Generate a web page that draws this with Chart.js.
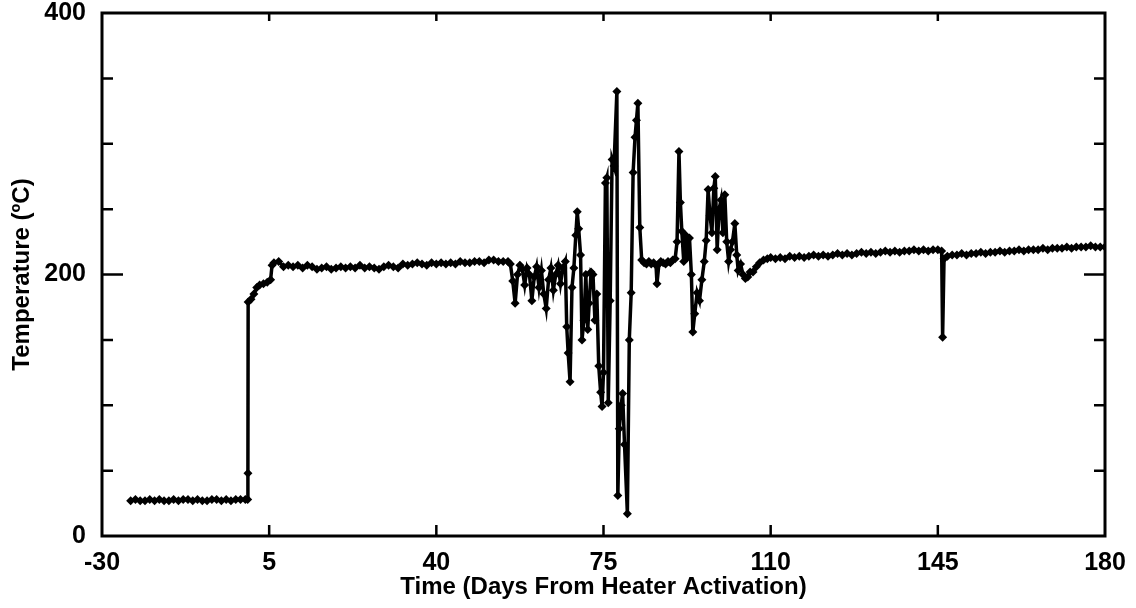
<!DOCTYPE html>
<html>
<head>
<meta charset="utf-8">
<script src="https://cdn.jsdelivr.net/npm/chart.js@4/dist/chart.umd.min.js"></script>
<style>
  html, body { margin: 0; padding: 0; background: #fff; }
  #wrap { width: 1136px; height: 608px; }
</style>
</head>
<body>
<div id="wrap"><canvas id="chart" width="1136" height="608"></canvas></div>
<script>
// Temperature history, split by phase

// before heater activation
const preDays  = [-24, -23, -22, -21, -20, -19, -18, -17, -16, -15, -14, -13, -12, -11, -10, -9, -8, -7, -6, -5, -4, -3, -2, -1, 0, 0.5, 0.55];
const preTemps = [27, 28, 27, 27, 28, 27, 28, 27, 27, 28, 27, 28, 28, 27, 28, 27, 27, 28, 28, 27, 28, 27, 28, 28, 28, 28, 48];

// warm-up
const warmDays  = [0.6, 1.2, 1.8, 2.4, 3.0, 3.8, 4.6, 5.3, 5.6];
const warmTemps = [179, 181, 185, 190, 192, 193, 194, 196, 207];

// steady plateau
const plateauDays  = [6, 7, 8, 9, 10, 11, 12, 13, 14, 15, 16, 17, 18, 19, 20, 21, 22, 23, 24, 25,
                      26, 27, 28, 29, 30, 31, 32, 33, 34, 35, 36, 37, 38, 39, 40, 41, 42, 43, 44, 45,
                      46, 47, 48, 49, 50, 51, 52, 53, 54, 55];
const plateauTemps = [209, 210, 206, 207, 206, 207, 205, 207, 206, 204, 205, 206, 204, 205, 206, 205, 206, 205, 207, 205,
                      206, 205, 204, 206, 207, 206, 205, 208, 207, 208, 209, 208, 207, 209, 208, 209, 208, 209, 208, 210,
                      209, 209, 210, 210, 209, 211, 211, 210, 210, 210];

// upset period
const upsetDays  = [55.5, 56, 56.5, 57, 57.5, 58, 58.5, 59, 59.5, 60, 60.5, 61, 61.5, 62, 62.5, 63, 63.5, 64, 64.5, 65,
                    65.5, 66, 66.5, 67, 67.3, 67.6, 68, 68.4, 68.8, 69.2, 69.5, 69.8, 70.2, 70.5, 70.9, 71.3, 71.7, 72, 72.4, 72.8,
                    73.2, 73.6, 74, 74.4, 74.7, 75, 75.4, 75.7, 76, 76.4, 76.8, 77.2, 77.8, 78, 78.3, 78.7, 79, 79.4, 80, 80.4,
                    80.8, 81.2, 81.6, 81.9, 82.2, 82.6, 83, 83.5, 84, 84.5, 85, 85.5, 86, 86.2, 86.6, 87, 87.5, 88, 88.5, 89,
                    89.5, 90, 90.4, 90.8, 91.1, 91.4, 91.8, 92.2, 92.6, 93, 93.4, 93.7, 94.1, 94.6, 95.1, 95.6, 96.1, 96.5, 96.9, 97.3,
                    97.7, 98.1, 98.4, 98.8, 99.2, 99.6, 100, 100.4, 100.8, 101.2, 101.6, 102, 102.5, 102.9, 103.2, 103.7, 104.2, 104.7, 105.2, 105.7,
                    106.3, 107, 107.7, 108.5, 109.3, 110];
const upsetTemps = [208, 195, 178, 200, 207, 204, 192, 205, 200, 180, 198, 206, 190, 203, 185, 174, 196, 205, 188, 200,
                    207, 193, 205, 210, 160, 140, 118, 190, 205, 230, 248, 235, 215, 150, 165, 200, 158, 178, 202, 200,
                    165, 185, 130, 110, 99, 125, 270, 274, 102, 180, 288, 283, 340, 31, 82, 100, 109, 70, 17, 150,
                    186, 278, 305, 318, 331, 236, 211, 209, 208, 210, 208, 209, 207, 193, 208, 210, 209, 208, 210, 209,
                    211, 212, 225, 294, 255, 233, 210, 230, 213, 228, 200, 156, 170, 186, 180, 196, 210, 226, 265, 245,
                    232, 266, 275, 219, 250, 257, 232, 261, 225, 210, 219, 225, 239, 215, 203, 208, 200, 197, 198, 202,
                    202, 206, 209, 211, 212, 213];

// long-term operation
const lateDays  = [111, 112, 113, 114, 115, 116, 117, 118, 119, 120, 121, 122, 123, 124, 125, 126, 127, 128, 129, 130,
                   131, 132, 133, 134, 135, 136, 137, 138, 139, 140, 141, 142, 143, 144, 145, 145.8, 146, 146.3, 147, 148,
                   149, 150, 151, 152, 153, 154, 155, 156, 157, 158, 159, 160, 161, 162, 163, 164, 165, 166, 167, 168,
                   169, 170, 171, 172, 173, 174, 175, 176, 177, 178, 179, 180];
const lateTemps = [212, 213, 212, 214, 213, 214, 213, 214, 215, 214, 215, 214, 215, 216, 215, 216, 215, 216, 217, 216,
                   217, 216, 217, 218, 217, 218, 217, 218, 218, 219, 218, 219, 218, 219, 219, 218, 152, 212, 214, 215,
                   215, 216, 215, 216, 216, 217, 216, 217, 217, 218, 217, 218, 218, 219, 218, 219, 219, 219, 220, 219,
                   220, 220, 220, 221, 220, 221, 221, 221, 222, 221, 221, 221];

const xTicks = [-30, 5, 40, 75, 110, 145, 180];
const yLabels = [0, 200, 400];

const days = [].concat(preDays, warmDays, plateauDays, upsetDays, lateDays);
const temps = [].concat(preTemps, warmTemps, plateauTemps, upsetTemps, lateTemps);
const points = days.map((d, i) => ({ x: d, y: temps[i] }));

// frame round the plot plus inward tick marks on all four sides
const framePlugin = {
  id: 'frame',
  afterDraw(chart) {
    const ctx = chart.ctx;
    const a = chart.chartArea;
    const xs = chart.scales.x;
    const ys = chart.scales.y;
    ctx.save();
    ctx.strokeStyle = '#000';
    ctx.lineWidth = 3;
    ctx.strokeRect(a.left, a.top, a.right - a.left, a.bottom - a.top);
    ctx.lineWidth = 2.5;
    ctx.beginPath();
    xs.ticks.forEach(t => {
      if (t.value <= xs.min || t.value >= xs.max) return;
      const px = xs.getPixelForValue(t.value);
      ctx.moveTo(px, a.bottom); ctx.lineTo(px, a.bottom - 11);
      ctx.moveTo(px, a.top); ctx.lineTo(px, a.top + 8);
    });
    ys.ticks.forEach(t => {
      if (t.value <= ys.min || t.value >= ys.max) return;
      const py = ys.getPixelForValue(t.value);
      const len = t.value === 200 ? 21 : 11;
      ctx.moveTo(a.left, py); ctx.lineTo(a.left + len, py);
      ctx.moveTo(a.right, py); ctx.lineTo(a.right - len, py);
    });
    ctx.stroke();
    ctx.restore();
  }
};

const tickFont = { family: 'Liberation Sans, Arial, sans-serif', size: 25, weight: 'bold' };
const titleFont = { family: 'Liberation Sans, Arial, sans-serif', size: 24, weight: 'bold' };

new Chart(document.getElementById('chart'), {
  type: 'line',
  data: {
    datasets: [{
      label: 'Temperature',
      data: points,
      borderColor: '#000',
      backgroundColor: '#000',
      borderWidth: 3.5,
      pointStyle: 'rectRot',
      pointRadius: 4.5,
      pointBorderWidth: 0,
      pointBackgroundColor: '#000',
      tension: 0
    }]
  },
  options: {
    responsive: false,
    animation: false,
    layout: { padding: { top: 13, right: 31, left: 0, bottom: 0 } },
    plugins: {
      legend: { display: false },
      tooltip: { enabled: false }
    },
    scales: {
      x: {
        type: 'linear',
        min: -30,
        max: 180,
        afterBuildTicks: s => { s.ticks = xTicks.map(v => ({ value: v })); },
        ticks: { color: '#000', font: tickFont, padding: 4, maxRotation: 0, autoSkip: false },
        grid: { display: false },
        border: { display: false },
        title: {
          display: true,
          text: 'Time (Days From Heater Activation)',
          color: '#000',
          font: titleFont,
          padding: { top: 0, bottom: 6 }
        },
        afterFit: s => { s.height = 72; s.paddingLeft = 0; s.paddingRight = 0; }
      },
      y: {
        min: 0,
        max: 400,
        ticks: {
          stepSize: 50,
          color: '#000',
          font: tickFont,
          padding: 8,
          autoSkip: false,
          callback: v => (yLabels.includes(v) ? String(v) : '')
        },
        grid: { display: false },
        border: { display: false },
        title: {
          display: true,
          text: 'Temperature (ºC)',
          color: '#000',
          font: titleFont,
          padding: { top: 8, bottom: 6 }
        },
        afterFit: s => { s.width = 102; s.paddingTop = 0; s.paddingBottom = 0; }
      }
    }
  },
  plugins: [framePlugin]
});
</script>
</body>
</html>
